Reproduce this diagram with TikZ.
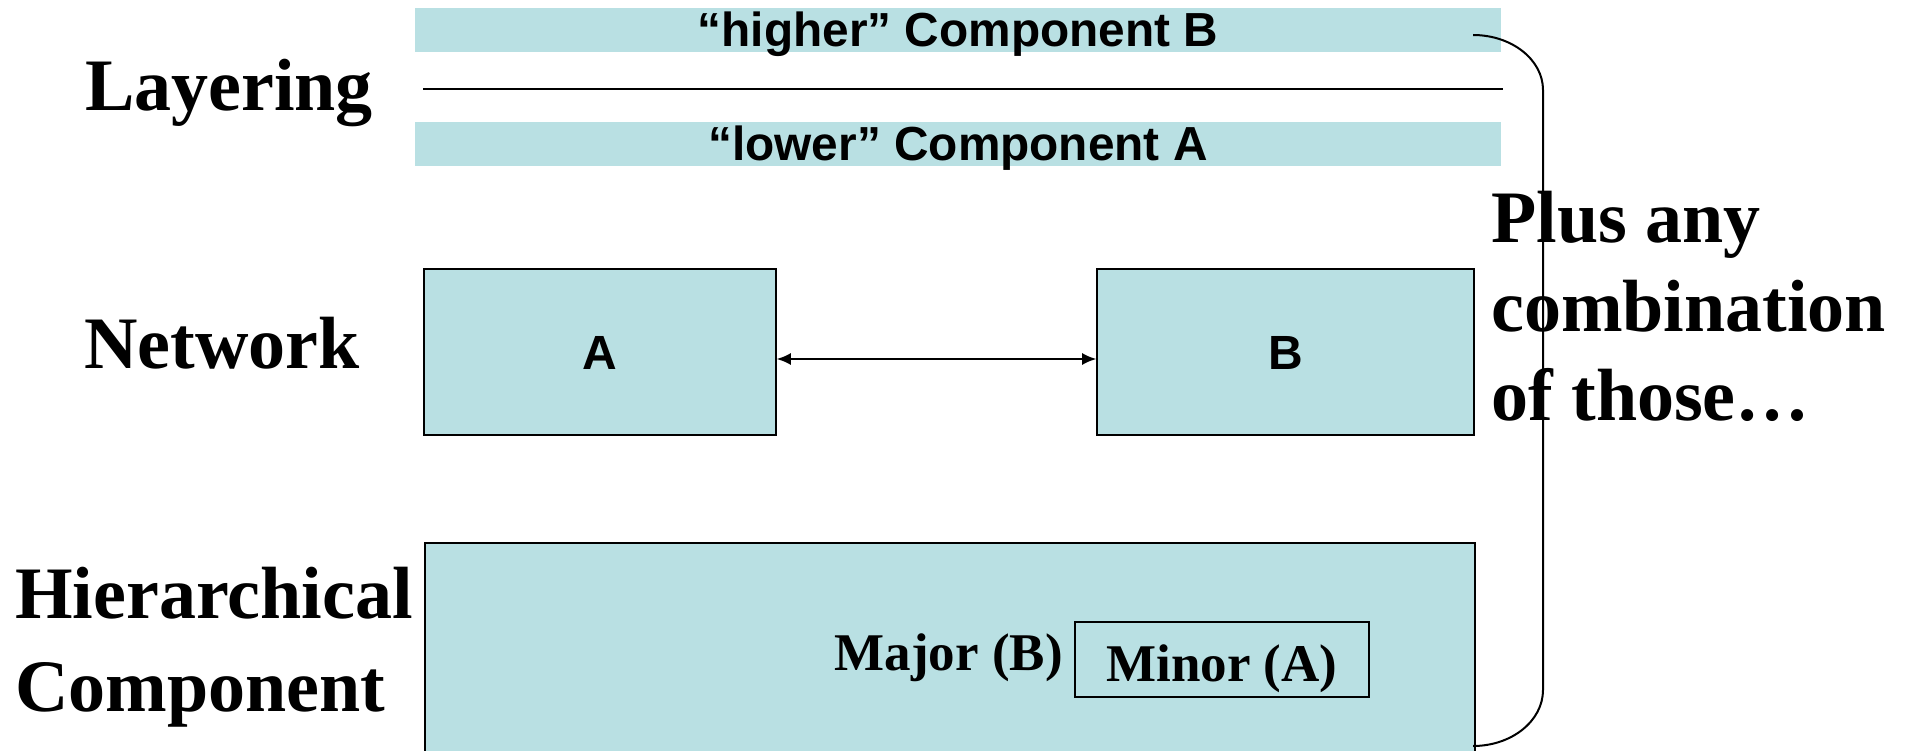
\documentclass[tikz,border=0pt]{standalone}
\usepackage{fontspec}
\setmainfont{Liberation Serif}
\newfontfamily\arialfont{Liberation Sans}
\usetikzlibrary{arrows.meta}
\definecolor{boxblue}{RGB}{185,224,227}
\begin{document}
\begin{tikzpicture}[x=1pt,y=-1pt,
  bar/.style={fill=boxblue, draw=none, minimum width=1086pt, minimum height=44pt, inner sep=0pt,
    font=\arialfont\fontsize{47.8}{55}\selectfont\bfseries},
  bartext/.style={anchor=base, inner sep=0pt, font=\arialfont\fontsize{47.8}{55}\selectfont\bfseries},
  comp/.style={fill=boxblue, draw=black, line width=1.6pt, inner sep=0pt,
    font=\arialfont\fontsize{48}{55}\selectfont\bfseries},
  bigtext/.style={anchor=base west, inner sep=0pt, font=\fontsize{74}{88}\selectfont\bfseries},
  midtext/.style={inner sep=0pt, font=\fontsize{53}{60}\selectfont\bfseries},
  conn/.style={line width=1.8pt, {Latex[length=14pt,width=12pt]}-{Latex[length=14pt,width=12pt]}},
  bracket/.style={line width=2pt},
  sep/.style={line width=2pt}
]
\useasboundingbox (0,0) rectangle (1910,751);
\fill[white] (0,0) rectangle (1910,751);

% Layering
\node[bar] (hb) at (958,30) {};
\node[bartext] (hbt) at (958,47) {“higher” Component B};
\node[bar] (lb) at (958,144.5) {};
\node[bartext] (lbt) at (958,161) {“lower” Component A};
\draw[sep] (423,89) -- (1503,89);

% Network
\node[comp, minimum width=352pt, minimum height=166pt, text height=34pt, text depth=0pt, yshift=-4pt] (A) at (600,348) {A};
\node[comp, minimum width=377pt, minimum height=166pt, text height=34pt, text depth=0pt, yshift=-4pt] (B) at (1285.5,348) {B};
\draw[conn] ([yshift=-7pt]A.east) -- ([yshift=-7pt]B.west);

% Hierarchical
\node[comp, anchor=north west, minimum width=1050pt, minimum height=218pt] (H) at (424,542) {};
\node[midtext, draw=black, line width=1.6pt, minimum width=294pt, minimum height=75pt,
  text height=43pt, text depth=0pt] (minor) at (1222,659.5) {Minor (A)};
\node[midtext, anchor=base east] (major) at (1063,670) {Major (B)};

% Labels
\node[bigtext] (lay) at (85,111) {Layering};
\node[bigtext] (net) at (84,368) {Network};
\node[bigtext] (hier1) at (15,618) {Hierarchical};
\node[bigtext] (hier2) at (15,711) {Component};
\node[bigtext] (plus1) at (1491,243) {Plus any};
\node[bigtext] (plus2) at (1491,331) {combination};
\node[bigtext] (plus3) at (1491,420) {of those…};

% Bracket
\coordinate (c1) at (1473,35);
\coordinate (c2) at (1473,746);
\draw[bracket] (c1) arc[start angle=-90, end angle=0, x radius=70, y radius=55]
  -- (1543,690) arc[start angle=0, end angle=90, x radius=70, y radius=56];
\end{tikzpicture}
\end{document}
